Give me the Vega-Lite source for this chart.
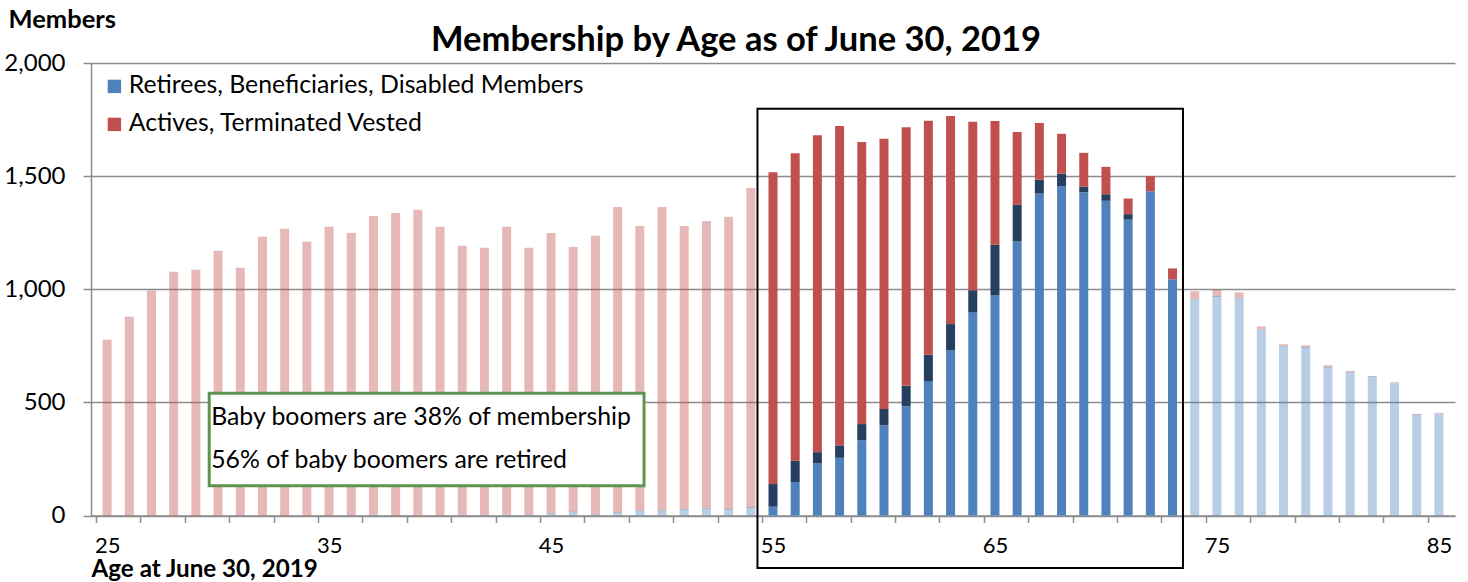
{
  "$schema": "https://vega.github.io/schema/vega-lite/v6.json",
  "width": 1364,
  "height": 452.5,
  "autosize": {"type": "none"},
  "padding": {"left": 91, "top": 63, "right": 13, "bottom": 66.5},
  "background": "white",
  "config": {"font": "Lato", "view": {"stroke": null}},
  "title": {
    "text": "Membership by Age as of June 30, 2019",
    "font": "Lato", "fontSize": 34.5, "fontWeight": "bold", "color": "black",
    "anchor": "middle", "frame": "group", "baseline": "alphabetic", "offset": 0, "dx": -37, "dy": 78
  },
  "datasets": {
    "members": [
      {"age": 25, "series": "Actives, Terminated Vested", "members": 777},
      {"age": 26, "series": "Actives, Terminated Vested", "members": 878},
      {"age": 27, "series": "Actives, Terminated Vested", "members": 995},
      {"age": 28, "series": "Actives, Terminated Vested", "members": 1077},
      {"age": 29, "series": "Actives, Terminated Vested", "members": 1086},
      {"age": 30, "series": "Actives, Terminated Vested", "members": 1170},
      {"age": 31, "series": "Actives, Terminated Vested", "members": 1095},
      {"age": 32, "series": "Actives, Terminated Vested", "members": 1232},
      {"age": 33, "series": "Actives, Terminated Vested", "members": 1267},
      {"age": 34, "series": "Actives, Terminated Vested", "members": 1210},
      {"age": 35, "series": "Actives, Terminated Vested", "members": 1276},
      {"age": 36, "series": "Actives, Terminated Vested", "members": 1249},
      {"age": 37, "series": "Retirees, Beneficiaries, Disabled Members", "members": 3},
      {"age": 37, "series": "Actives, Terminated Vested", "members": 1321},
      {"age": 38, "series": "Actives, Terminated Vested", "members": 1337},
      {"age": 39, "series": "Actives, Terminated Vested", "members": 1351},
      {"age": 40, "series": "Actives, Terminated Vested", "members": 1276},
      {"age": 41, "series": "Retirees, Beneficiaries, Disabled Members", "members": 2},
      {"age": 41, "series": "Actives, Terminated Vested", "members": 1190},
      {"age": 42, "series": "Retirees, Beneficiaries, Disabled Members", "members": 2},
      {"age": 42, "series": "Actives, Terminated Vested", "members": 1181},
      {"age": 43, "series": "Retirees, Beneficiaries, Disabled Members", "members": 3},
      {"age": 43, "series": "Actives, Terminated Vested", "members": 1273},
      {"age": 44, "series": "Retirees, Beneficiaries, Disabled Members", "members": 3},
      {"age": 44, "series": "DROP Participants", "members": 2},
      {"age": 44, "series": "Actives, Terminated Vested", "members": 1178},
      {"age": 45, "series": "Retirees, Beneficiaries, Disabled Members", "members": 8},
      {"age": 45, "series": "DROP Participants", "members": 3},
      {"age": 45, "series": "Actives, Terminated Vested", "members": 1238},
      {"age": 46, "series": "Retirees, Beneficiaries, Disabled Members", "members": 15},
      {"age": 46, "series": "DROP Participants", "members": 3},
      {"age": 46, "series": "Actives, Terminated Vested", "members": 1169},
      {"age": 47, "series": "Retirees, Beneficiaries, Disabled Members", "members": 4},
      {"age": 47, "series": "DROP Participants", "members": 2},
      {"age": 47, "series": "Actives, Terminated Vested", "members": 1230},
      {"age": 48, "series": "Retirees, Beneficiaries, Disabled Members", "members": 12},
      {"age": 48, "series": "DROP Participants", "members": 4},
      {"age": 48, "series": "Actives, Terminated Vested", "members": 1348},
      {"age": 49, "series": "Retirees, Beneficiaries, Disabled Members", "members": 18},
      {"age": 49, "series": "DROP Participants", "members": 5},
      {"age": 49, "series": "Actives, Terminated Vested", "members": 1257},
      {"age": 50, "series": "Retirees, Beneficiaries, Disabled Members", "members": 18},
      {"age": 50, "series": "DROP Participants", "members": 5},
      {"age": 50, "series": "Actives, Terminated Vested", "members": 1341},
      {"age": 51, "series": "Retirees, Beneficiaries, Disabled Members", "members": 25},
      {"age": 51, "series": "DROP Participants", "members": 5},
      {"age": 51, "series": "Actives, Terminated Vested", "members": 1250},
      {"age": 52, "series": "Retirees, Beneficiaries, Disabled Members", "members": 30},
      {"age": 52, "series": "DROP Participants", "members": 4},
      {"age": 52, "series": "Actives, Terminated Vested", "members": 1268},
      {"age": 53, "series": "Retirees, Beneficiaries, Disabled Members", "members": 25},
      {"age": 53, "series": "DROP Participants", "members": 5},
      {"age": 53, "series": "Actives, Terminated Vested", "members": 1290},
      {"age": 54, "series": "Retirees, Beneficiaries, Disabled Members", "members": 32},
      {"age": 54, "series": "DROP Participants", "members": 6},
      {"age": 54, "series": "Actives, Terminated Vested", "members": 1410},
      {"age": 55, "series": "Retirees, Beneficiaries, Disabled Members", "members": 39},
      {"age": 55, "series": "DROP Participants", "members": 100},
      {"age": 55, "series": "Actives, Terminated Vested", "members": 1378},
      {"age": 56, "series": "Retirees, Beneficiaries, Disabled Members", "members": 148},
      {"age": 56, "series": "DROP Participants", "members": 94},
      {"age": 56, "series": "Actives, Terminated Vested", "members": 1359},
      {"age": 57, "series": "Retirees, Beneficiaries, Disabled Members", "members": 230},
      {"age": 57, "series": "DROP Participants", "members": 50},
      {"age": 57, "series": "Actives, Terminated Vested", "members": 1401},
      {"age": 58, "series": "Retirees, Beneficiaries, Disabled Members", "members": 255},
      {"age": 58, "series": "DROP Participants", "members": 55},
      {"age": 58, "series": "Actives, Terminated Vested", "members": 1412},
      {"age": 59, "series": "Retirees, Beneficiaries, Disabled Members", "members": 333},
      {"age": 59, "series": "DROP Participants", "members": 71},
      {"age": 59, "series": "Actives, Terminated Vested", "members": 1247},
      {"age": 60, "series": "Retirees, Beneficiaries, Disabled Members", "members": 399},
      {"age": 60, "series": "DROP Participants", "members": 72},
      {"age": 60, "series": "Actives, Terminated Vested", "members": 1194},
      {"age": 61, "series": "Retirees, Beneficiaries, Disabled Members", "members": 483},
      {"age": 61, "series": "DROP Participants", "members": 90},
      {"age": 61, "series": "Actives, Terminated Vested", "members": 1143},
      {"age": 62, "series": "Retirees, Beneficiaries, Disabled Members", "members": 594},
      {"age": 62, "series": "DROP Participants", "members": 116},
      {"age": 62, "series": "Actives, Terminated Vested", "members": 1035},
      {"age": 63, "series": "Retirees, Beneficiaries, Disabled Members", "members": 730},
      {"age": 63, "series": "DROP Participants", "members": 116},
      {"age": 63, "series": "Actives, Terminated Vested", "members": 920},
      {"age": 64, "series": "Retirees, Beneficiaries, Disabled Members", "members": 897},
      {"age": 64, "series": "DROP Participants", "members": 99},
      {"age": 64, "series": "Actives, Terminated Vested", "members": 744},
      {"age": 65, "series": "Retirees, Beneficiaries, Disabled Members", "members": 973},
      {"age": 65, "series": "DROP Participants", "members": 224},
      {"age": 65, "series": "Actives, Terminated Vested", "members": 547},
      {"age": 66, "series": "Retirees, Beneficiaries, Disabled Members", "members": 1211},
      {"age": 66, "series": "DROP Participants", "members": 162},
      {"age": 66, "series": "Actives, Terminated Vested", "members": 322},
      {"age": 67, "series": "Retirees, Beneficiaries, Disabled Members", "members": 1423},
      {"age": 67, "series": "DROP Participants", "members": 61},
      {"age": 67, "series": "Actives, Terminated Vested", "members": 251},
      {"age": 68, "series": "Retirees, Beneficiaries, Disabled Members", "members": 1455},
      {"age": 68, "series": "DROP Participants", "members": 56},
      {"age": 68, "series": "Actives, Terminated Vested", "members": 176},
      {"age": 69, "series": "Retirees, Beneficiaries, Disabled Members", "members": 1428},
      {"age": 69, "series": "DROP Participants", "members": 25},
      {"age": 69, "series": "Actives, Terminated Vested", "members": 150},
      {"age": 70, "series": "Retirees, Beneficiaries, Disabled Members", "members": 1391},
      {"age": 70, "series": "DROP Participants", "members": 29},
      {"age": 70, "series": "Actives, Terminated Vested", "members": 121},
      {"age": 71, "series": "Retirees, Beneficiaries, Disabled Members", "members": 1308},
      {"age": 71, "series": "DROP Participants", "members": 24},
      {"age": 71, "series": "Actives, Terminated Vested", "members": 69},
      {"age": 72, "series": "Retirees, Beneficiaries, Disabled Members", "members": 1433},
      {"age": 72, "series": "Actives, Terminated Vested", "members": 67},
      {"age": 73, "series": "Retirees, Beneficiaries, Disabled Members", "members": 1044},
      {"age": 73, "series": "Actives, Terminated Vested", "members": 48},
      {"age": 74, "series": "Retirees, Beneficiaries, Disabled Members", "members": 955},
      {"age": 74, "series": "DROP Participants", "members": 3},
      {"age": 74, "series": "Actives, Terminated Vested", "members": 33},
      {"age": 75, "series": "Retirees, Beneficiaries, Disabled Members", "members": 965},
      {"age": 75, "series": "DROP Participants", "members": 7},
      {"age": 75, "series": "Actives, Terminated Vested", "members": 26},
      {"age": 76, "series": "Retirees, Beneficiaries, Disabled Members", "members": 961},
      {"age": 76, "series": "Actives, Terminated Vested", "members": 25},
      {"age": 77, "series": "Retirees, Beneficiaries, Disabled Members", "members": 823},
      {"age": 77, "series": "Actives, Terminated Vested", "members": 13},
      {"age": 78, "series": "Retirees, Beneficiaries, Disabled Members", "members": 749},
      {"age": 78, "series": "Actives, Terminated Vested", "members": 8},
      {"age": 79, "series": "Retirees, Beneficiaries, Disabled Members", "members": 741},
      {"age": 79, "series": "DROP Participants", "members": 4},
      {"age": 79, "series": "Actives, Terminated Vested", "members": 7},
      {"age": 80, "series": "Retirees, Beneficiaries, Disabled Members", "members": 652},
      {"age": 80, "series": "DROP Participants", "members": 4},
      {"age": 80, "series": "Actives, Terminated Vested", "members": 8},
      {"age": 81, "series": "Retirees, Beneficiaries, Disabled Members", "members": 632},
      {"age": 81, "series": "DROP Participants", "members": 3},
      {"age": 81, "series": "Actives, Terminated Vested", "members": 4},
      {"age": 82, "series": "Retirees, Beneficiaries, Disabled Members", "members": 613},
      {"age": 82, "series": "DROP Participants", "members": 3},
      {"age": 82, "series": "Actives, Terminated Vested", "members": 1},
      {"age": 83, "series": "Retirees, Beneficiaries, Disabled Members", "members": 585},
      {"age": 83, "series": "Actives, Terminated Vested", "members": 4},
      {"age": 84, "series": "Retirees, Beneficiaries, Disabled Members", "members": 445},
      {"age": 84, "series": "DROP Participants", "members": 3},
      {"age": 84, "series": "Actives, Terminated Vested", "members": 1},
      {"age": 85, "series": "Retirees, Beneficiaries, Disabled Members", "members": 451},
      {"age": 85, "series": "Actives, Terminated Vested", "members": 3}
    ]
  },
  "layer": [
    {
      "data": {"name": "members"},
      "mark": {"type": "bar", "size": 9},
      "encoding": {
        "x": {
          "field": "age", "type": "quantitative",
          "scale": {"domain": [24.5, 85.5], "nice": false, "zero": false},
          "axis": {
            "values": [24.5, 25.5, 26.5, 27.5, 28.5, 29.5, 30.5, 31.5, 32.5, 33.5, 34.5, 35.5, 36.5, 37.5, 38.5, 39.5, 40.5, 41.5, 42.5, 43.5, 44.5, 45.5, 46.5, 47.5, 48.5, 49.5, 50.5, 51.5, 52.5, 53.5, 54.5, 55.5, 56.5, 57.5, 58.5, 59.5, 60.5, 61.5, 62.5, 63.5, 64.5, 65.5, 66.5, 67.5, 68.5, 69.5, 70.5, 71.5, 72.5, 73.5, 74.5, 75.5, 76.5, 77.5, 78.5, 79.5, 80.5, 81.5, 82.5, 83.5, 84.5, 85.5],
            "labelExpr": "(datum.value + 0.5) % 10 == 5 ? format(datum.value + 0.5, 'd') : ''",
            "labelOffset": 11.18,
            "labelOverlap": false, "labelBound": false, "labelFlush": false,
            "grid": false,
            "domainColor": "#8c8c8c", "domainWidth": 1.5,
            "tickColor": "#8c8c8c", "tickWidth": 1.5, "tickSize": 7,
            "labelFont": "Lato", "labelFontSize": 22, "labelColor": "black", "labelPadding": 13,
            "title": "Age at June 30, 2019",
            "titleFont": "Lato", "titleFontSize": 24.2, "titleFontWeight": "bold", "titleColor": "black",
            "titleAnchor": "start", "titleAlign": "left", "titleBaseline": "alphabetic", "titleX": 0, "titleY": 61
          }
        },
        "y": {
          "field": "members", "type": "quantitative", "stack": "zero",
          "scale": {"domain": [0, 2000], "nice": false},
          "axis": {
            "values": [0, 500, 1000, 1500, 2000], "format": ",.0f",
            "grid": true, "gridColor": "#8c8c8c", "gridWidth": 1.5,
            "domainColor": "#8c8c8c", "domainWidth": 1.5,
            "tickColor": "#8c8c8c", "tickWidth": 1.5, "tickSize": 8,
            "labelFont": "Lato", "labelFontSize": 24, "labelColor": "black", "labelPadding": 18,
            "title": "Members",
            "titleFont": "Lato", "titleFontSize": 25.5, "titleFontWeight": "bold", "titleColor": "black",
            "titleAngle": 0, "titleAlign": "left", "titleBaseline": "alphabetic", "titleX": -83, "titleY": -36
          }
        },
        "color": {
          "field": "series", "type": "nominal",
          "scale": {
            "domain": ["Retirees, Beneficiaries, Disabled Members", "DROP Participants", "Actives, Terminated Vested"],
            "range": ["#4F81BD", "#243F60", "#C0504D"]
          },
          "legend": {
            "values": ["Retirees, Beneficiaries, Disabled Members", "Actives, Terminated Vested"],
            "title": null, "orient": "none", "legendX": 11, "legendY": 11, "padding": 0,
            "symbolType": "square", "symbolSize": 180, "symbolStrokeWidth": 0, "symbolOpacity": 1,
            "labelFont": "Lato", "labelFontSize": 24.8, "labelColor": "black", "labelOffset": 2, "labelLimit": 0,
            "rowPadding": 12
          }
        },
        "order": {"field": "series", "sort": "descending"},
        "opacity": {"condition": {"test": "datum.age >= 55 && datum.age <= 73", "value": 1}, "value": 0.4}
      }
    },
    {
      "data": {"values": [{}]},
      "mark": {"type": "rect", "fill": "transparent", "stroke": "black", "strokeWidth": 2},
      "encoding": {
        "x": {"datum": 54.3, "type": "quantitative"},
        "x2": {"datum": 73.47},
        "y": {"datum": 1798, "type": "quantitative"},
        "y2": {"datum": -232}
      }
    },
    {
      "data": {"values": [{}]},
      "mark": {"type": "rect", "fill": "white", "stroke": "#5f9450", "strokeWidth": 3},
      "encoding": {
        "x": {"datum": 29.6, "type": "quantitative"},
        "x2": {"datum": 49.19},
        "y": {"datum": 540, "type": "quantitative"},
        "y2": {"datum": 131}
      }
    },
    {
      "data": {"values": [{}]},
      "mark": {"type": "text", "text": "Baby boomers are 38% of membership", "align": "left", "baseline": "alphabetic", "font": "Lato", "fontSize": 24.8, "color": "black"},
      "encoding": {
        "x": {"datum": 29.69, "type": "quantitative"},
        "y": {"datum": 399.4, "type": "quantitative"}
      }
    },
    {
      "data": {"values": [{}]},
      "mark": {"type": "text", "text": "56% of baby boomers are retired", "align": "left", "baseline": "alphabetic", "font": "Lato", "fontSize": 24.8, "color": "black"},
      "encoding": {
        "x": {"datum": 29.69, "type": "quantitative"},
        "y": {"datum": 211, "type": "quantitative"}
      }
    }
  ]
}
